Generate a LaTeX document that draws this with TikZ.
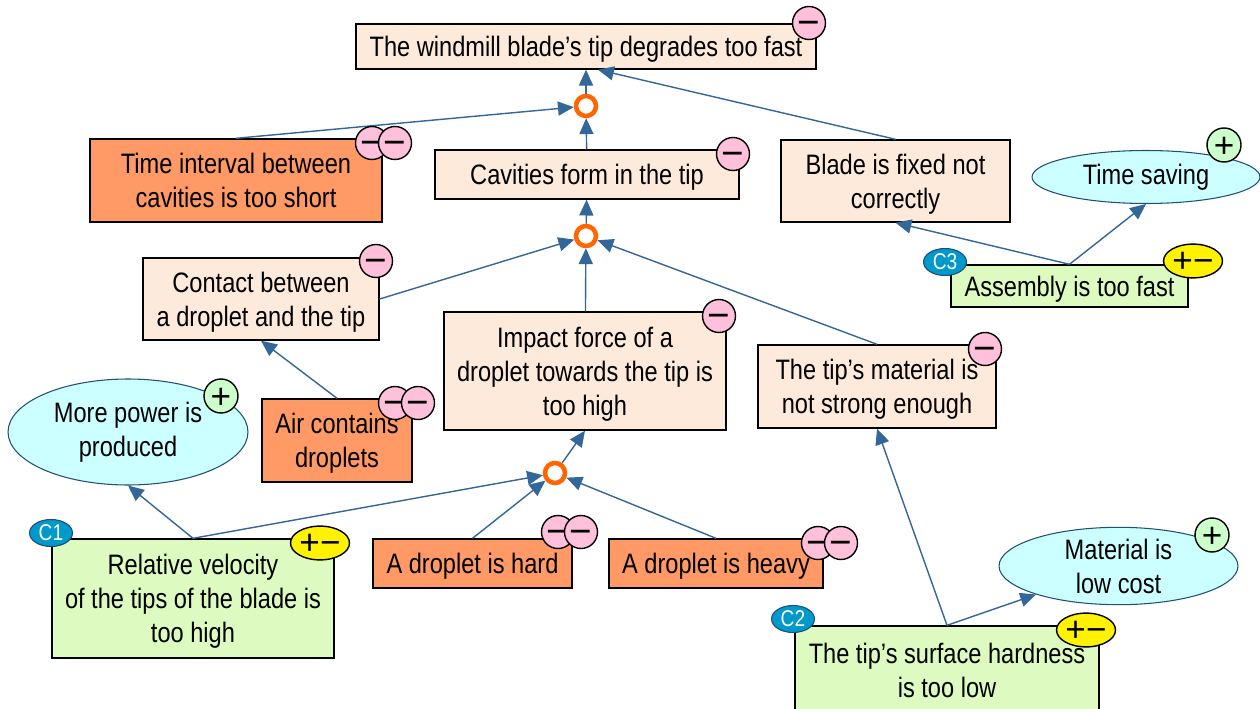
\documentclass[tikz,border=0pt]{standalone}
\usepackage{fontspec}
\setmainfont{Liberation Sans}[FakeStretch=0.84]
\newfontfamily\signfont{Liberation Sans}
\usetikzlibrary{arrows.meta, shapes.geometric}

\definecolor{peach}{HTML}{FDEADA}
\definecolor{rootorange}{HTML}{FF9966}
\definecolor{choicegreen}{HTML}{DDFBC0}
\definecolor{gaincyan}{HTML}{CCFFFF}
\definecolor{ellipseblue}{HTML}{1F4E79}
\definecolor{linkblue}{HTML}{336699}
\definecolor{gateorange}{HTML}{FF6600}
\definecolor{minuspink}{HTML}{FFC0DB}
\definecolor{plusgreen}{HTML}{CCFFCC}
\definecolor{cblue}{HTML}{0099CC}

\begin{document}
\begin{tikzpicture}[x=0.02cm, y=-0.02cm,
    arrow/.style={-{Triangle[length=9pt, width=8pt]}, draw=linkblue, line width=0.8pt},
    box/.style={draw=black, line width=0.8pt, align=center, inner sep=2pt, text depth=0pt, font=\fontsize{16}{19.4}\selectfont},
    effect/.style={box, fill=peach},
    cause/.style={box, fill=rootorange},
    choice/.style={box, fill=choicegreen},
    gain/.style={ellipse, draw=ellipseblue, line width=0.6pt, fill=gaincyan, align=center, inner sep=0pt, font=\fontsize{16}{19.4}\selectfont},
    orgate/.style={circle, draw=gateorange, line width=2.6pt, minimum size=0.4cm, inner sep=0pt},
    sign/.style={draw=black, line width=0.8pt, inner sep=0pt, text height=13.8pt, text depth=0pt, font=\signfont\fontsize{22}{22}\selectfont},
    minusbadge/.style={sign, circle, fill=minuspink, minimum size=0.6cm},
    plusbadge/.style={sign, circle, fill=plusgreen, minimum size=0.68cm, text height=14.2pt, font=\signfont\fontsize{20}{20}\selectfont},
    mixbadge/.style={sign, ellipse, fill=yellow, minimum width=1.18cm, minimum height=0.54cm, text height=13.6pt, font=\signfont\fontsize{20}{20}\selectfont},
    cbadge/.style={ellipse, draw=ellipseblue, line width=0.6pt, fill=cblue, text=white, inner sep=0pt, minimum width=0.86cm, minimum height=0.54cm, font=\fontsize{13}{13}\selectfont}]

\useasboundingbox (0,0) rectangle (1260,709);

%top of the tree
\node (tip) [effect, minimum width=9.2cm, minimum height=0.9cm] at (586,46.5) {The windmill blade’s tip degrades too fast};

%second row
\node (interval) [cause, minimum width=5.84cm, minimum height=1.66cm] at (236,180.5) {Time interval between\\cavities is too short};
\node (cavities) [effect, minimum width=6.08cm, minimum height=0.98cm] at (587,174.5) {Cavities form in the tip};
\node (fixed) [effect, minimum width=4.58cm, minimum height=1.64cm] at (895.5,181) {Blade is fixed not\\correctly};
\node (saving) [gain, minimum width=4.56cm, minimum height=1.06cm] at (1146,177) {Time saving};

%third row
\node (contact) [effect, minimum width=4.72cm, minimum height=1.64cm] at (261,299) {Contact between\\a droplet and the tip};
\node (assembly) [choice, minimum width=4.74cm, minimum height=0.84cm] at (1069.5,286) {Assembly is too fast};
\node (impact) [effect, minimum width=5.64cm, minimum height=2.36cm] at (585,371) {Impact force of a\\droplet towards the tip is\\too high};
\node (strength) [effect, minimum width=4.76cm, minimum height=1.66cm] at (877,386.5) {The tip’s material is\\not strong enough};

%fourth row
\node (power) [gain, minimum width=4.8cm, minimum height=2.12cm] at (128,432) {More power is\\produced};
\node (air) [cause, minimum width=3cm, minimum height=1.66cm] at (337,440.5) {Air contains\\droplets};

%bottom row
\node (velocity) [choice, minimum width=5.64cm, minimum height=2.38cm] at (193,598.5) {Relative velocity\\of the tips of the blade is\\too high};
\node (hard) [cause, minimum width=3.98cm, minimum height=0.98cm] at (472.5,563.5) {A droplet is hard};
\node (heavy) [cause, minimum width=4.28cm, minimum height=0.98cm] at (716,563.5) {A droplet is heavy};
\node (cost) [gain, minimum width=4.78cm, minimum height=1.52cm] at (1118.5,566) {Material is\\low cost};
\node (hardness) [choice, minimum width=6.08cm, minimum height=1.76cm] at (947,670) {The tip’s surface hardness\\is too low};

%or gates
\node (or1) [orgate] at (586,106) {};
\node (or2) [orgate] at (586,236) {};
\node (or3) [orgate] at (555,473) {};

%arrows to the top
\draw[arrow] (or1) -- (tip);
\draw[arrow] (interval.north) -- (or1);
\draw[arrow] (cavities) -- (or1);
\draw[arrow] (fixed.north) -- ([xshift=0.24cm]tip.south);

%arrows to the cavities
\draw[arrow] (or2) -- (cavities);
\draw[arrow] (contact.east) -- (or2);
\draw[arrow] (impact) -- (or2);
\draw[arrow] (strength.north) -- (or2);
\draw[arrow] (air.north) -- (contact.south);
\draw[arrow] (assembly.north) -- (fixed.south);
\draw[arrow] (assembly.north) -- (saving.south);

%arrows to the impact force
\draw[arrow] (or3) -- (impact.south);
\draw[arrow] (velocity.north) -- (power.south);
\draw[arrow] (velocity.north) -- (or3);
\draw[arrow] (hard.north) -- (or3);
\draw[arrow] (heavy.north) -- (or3);
\draw[arrow] (hardness.north) -- (strength.south);
\draw[arrow] (hardness.north) -- (cost);

%badges
\node (tipm) [minusbadge] at (809,23) {−};
\node (cavm) [minusbadge] at (733,154) {−};
\node (contm) [minusbadge] at (376,261) {−};
\node (impm) [minusbadge] at (719,316) {−};
\node (strm) [minusbadge] at (985,349) {−};
\node (intm1) [minusbadge] at (372,143) {−};
\node (intm2) [minusbadge] at (395,143) {−};
\node (airm1) [minusbadge] at (395,403) {−};
\node (airm2) [minusbadge] at (418,403) {−};
\node (hardm1) [minusbadge] at (558,532) {−};
\node (hardm2) [minusbadge] at (581,532) {−};
\node (heavym1) [minusbadge] at (818,543) {−};
\node (heavym2) [minusbadge] at (841,543) {−};
\node (savp) [plusbadge] at (1224,145) {+};
\node (powp) [plusbadge] at (221,396) {+};
\node (costp) [plusbadge] at (1212,535) {+};
\node (assx) [mixbadge] at (1193,261) {+−};
\node (velx) [mixbadge] at (320,543) {+−};
\node (hardnessx) [mixbadge] at (1086,630) {+−};
\node (c3) [cbadge] at (945,262) {C3};
\node (c1) [cbadge] at (51,533) {C1};
\node (c2) [cbadge] at (793,619) {C2};

\end{tikzpicture}
\end{document}
